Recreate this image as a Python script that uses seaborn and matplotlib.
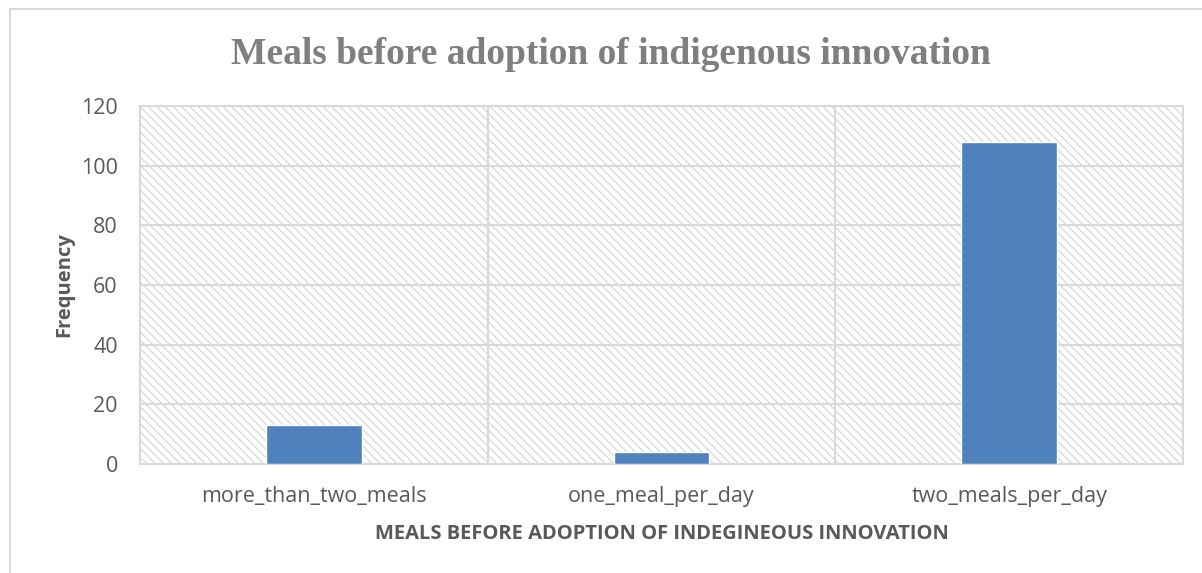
import matplotlib
matplotlib.use("Agg")
import matplotlib.pyplot as plt
import seaborn as sns
import pandas as pd
from matplotlib.patches import Rectangle
from matplotlib.lines import Line2D

categories = ["more_than_two_meals", "one_meal_per_day", "two_meals_per_day"]
frequency = [13, 4, 108]
yticks = [0, 20, 40, 60, 80, 100, 120]
title = "Meals before adoption of indigenous innovation"
xlabel = "MEALS BEFORE ADOPTION OF INDEGINEOUS INNOVATION"
ylabel = "Frequency"

df = pd.DataFrame({"category": categories, "frequency": frequency})

sns.set_theme(style="white")
plt.rcParams["font.family"] = ["Open Sans", "DejaVu Sans"]
plt.rcParams["hatch.linewidth"] = 0.8

fig = plt.figure(figsize=(12.02, 5.73), dpi=100)
ax = fig.add_axes([140 / 1202, 1 - 464 / 573, (1183 - 140) / 1202, (464 - 106) / 573])

grid_c = "#d9d9d9"
# hatched background
ax.add_patch(Rectangle((0, 0), 1, 1, transform=ax.transAxes, facecolor="white",
                       edgecolor="#d4d4d4", hatch="\\\\\\\\", linewidth=0, zorder=0))

sns.barplot(data=df, x="category", y="frequency", color="#4f81bd", width=0.275,
            saturation=1, ax=ax, zorder=3)

ax.set_xlim(-0.5, 2.5)
ax.set_ylim(0, 120)
ax.set_yticks(yticks)
for y in yticks[1:]:
    ax.axhline(y, color=grid_c, lw=1.5, zorder=1)
for x in [0.5, 1.5]:
    ax.axvline(x, color=grid_c, lw=1.5, zorder=1)
for s in ax.spines.values():
    s.set_color(grid_c)
    s.set_linewidth(1.5)

ax.tick_params(axis="both", length=0, labelsize=15.5, labelcolor="#595959")
ax.tick_params(axis="x", pad=16)
ax.tick_params(axis="y", pad=16)

ax.set_xlabel(xlabel, fontsize=14.5, fontweight="bold", color="#595959", labelpad=12)
ax.set_ylabel(ylabel, fontsize=14.5, fontweight="bold", color="#595959", labelpad=5)

fig.text(611 / 1202, 1 - 54 / 573, title, ha="center", va="center",
         fontsize=27, fontweight="bold", color="#7f7f7f", family="Liberation Serif")

# outer chart border (top and left visible)
fig.add_artist(Line2D([10 / 1202, 1], [1 - 9 / 573, 1 - 9 / 573], transform=fig.transFigure,
                      color="#d9d9d9", lw=1.5))
fig.add_artist(Line2D([10 / 1202, 10 / 1202], [0, 1 - 9 / 573], transform=fig.transFigure,
                      color="#d9d9d9", lw=1.5))

fig.savefig("out.png", dpi=100, facecolor="white")
